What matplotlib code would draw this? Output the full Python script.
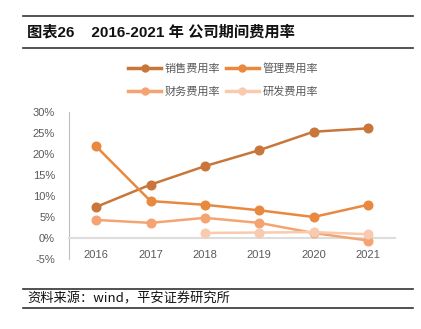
import matplotlib
matplotlib.use("Agg")
import matplotlib.pyplot as plt
from matplotlib.lines import Line2D

plt.rcParams['font.family'] = ['Liberation Sans', 'Noto Sans CJK SC', 'DejaVu Sans']

years = ['2016', '2017', '2018', '2019', '2020', '2021']
sales = [7.4, 12.7, 17.1, 20.9, 25.3, 26.1]
mgmt = [21.8, 8.8, 7.9, 6.6, 5.0, 7.9]
finance = [4.3, 3.6, 4.8, 3.6, 1.2, -0.6]
rnd_years = ['2018', '2019', '2020', '2021']
rnd = [1.2, 1.3, 1.4, 0.9]
yticks = [-5, 0, 5, 10, 15, 20, 25, 30]

names = ['销售费用率', '管理费用率', '财务费用率', '研发费用率']
colors = ['#C8763A', '#E8893F', '#F4A472', '#F8CAAF']

fig = plt.figure(figsize=(4.21, 3.29), dpi=100)
W, H = 421, 329
ax = fig.add_axes([69 / W, 1 - 259 / H, (395 - 69) / W, (259 - 112) / H])

x = list(range(len(years)))
xr = [years.index(y) for y in rnd_years]
series = [(x, sales), (x, mgmt), (x, finance), (xr, rnd)]
for (xs, ys), c, n in zip(series, colors, names):
    ax.plot(xs, ys, color=c, lw=1.8, marker='o', ms=6.2, zorder=3, label=n)

ax.set_xlim(-0.5, 5.5)
ax.set_ylim(-5, 30)
ax.set_yticks(yticks)
ax.set_yticklabels([f'{v}%' for v in yticks])
ax.set_xticks(x)
ax.set_xticklabels(years)

for s in ['top', 'right']:
    ax.spines[s].set_visible(False)
ax.spines['left'].set_color('#BFBFBF')
ax.spines['left'].set_linewidth(0.8)
ax.spines['bottom'].set_position(('data', 0))
ax.spines['bottom'].set_color('#DDDDDD')
ax.spines['bottom'].set_linewidth(1.5)
ax.tick_params(axis='y', length=0, pad=10, labelsize=8, labelcolor='#595959')
ax.tick_params(axis='x', length=0, pad=9, labelsize=8, labelcolor='#595959')

leg_handles = [Line2D([], [], color=c, lw=2.5, marker='o', ms=5) for c in colors]
order = [0, 2, 1, 3]
fig.legend([leg_handles[i] for i in order], [names[i] for i in order],
           ncol=2, loc='center', bbox_to_anchor=(223 / W, 1 - 80 / H),
           frameon=False, handlelength=3.0, handletextpad=0.3,
           columnspacing=0.5, labelspacing=1.1,
           prop={'family': ['Noto Sans CJK SC'], 'size': 8}, labelcolor='#595959')

# header and footer
for yy in [16, 48, 289, 308]:
    fig.add_artist(Line2D([23 / W, 413 / W], [1 - yy / H, 1 - yy / H], color='#333333', lw=1.2))

fig.text(27 / W, 1 - 32 / H, '图表26    2016-2021 年 公司期间费用率', fontsize=11, fontweight='bold',
         family=['Liberation Sans', 'Noto Sans CJK SC'], va='center', ha='left', color='#111111')
fig.text(27 / W, 1 - 299 / H, '资料来源：wind，平安证券研究所', fontsize=9.5, style='italic',
         family=['Noto Sans CJK SC', 'DejaVu Sans'], va='center', ha='left', color='#111111')

fig.savefig('out.png', dpi=100)
